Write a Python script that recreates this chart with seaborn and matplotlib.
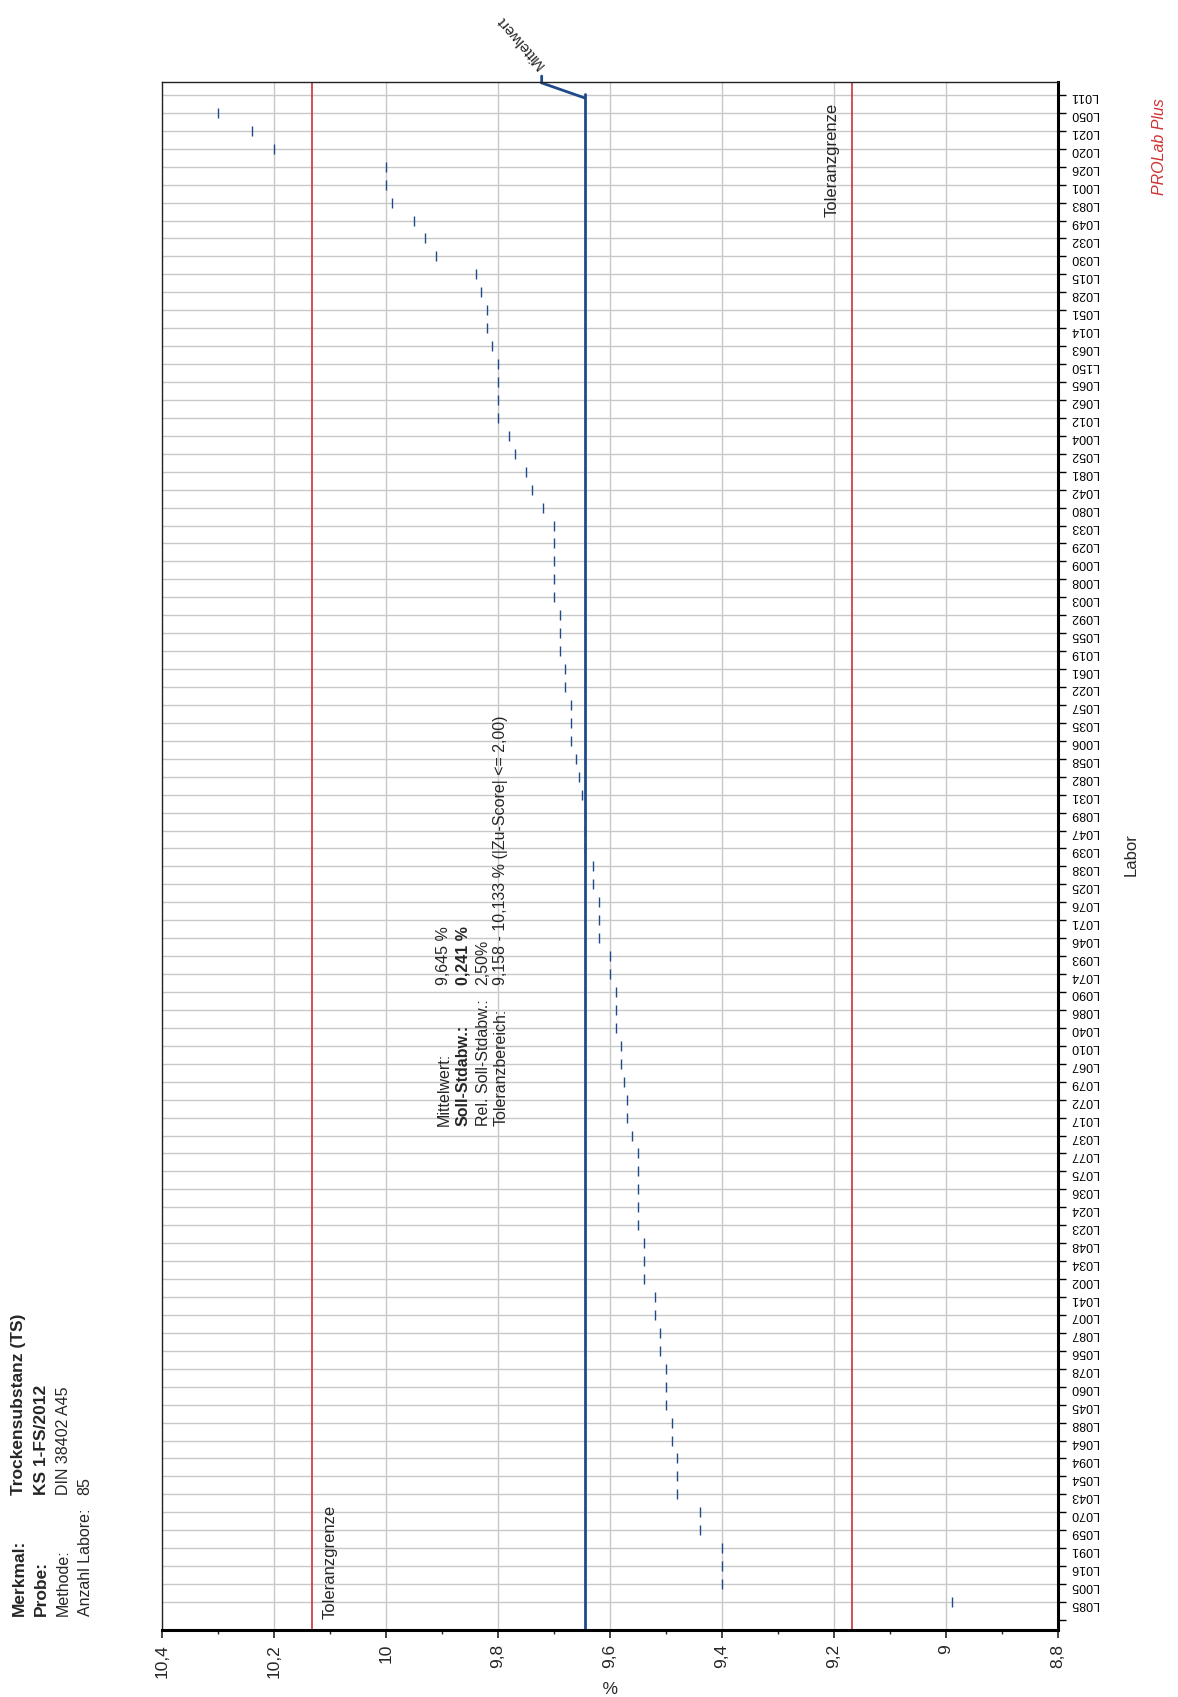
import matplotlib
matplotlib.use("Agg")
import matplotlib.pyplot as plt
import seaborn as sns
import numpy as np
import pandas as pd
from matplotlib.ticker import MultipleLocator

# ---- data (top of chart to bottom) ----
labs = ["L011", "L050", "L021", "L020", "L026", "L001", "L083", "L049", "L032", "L030",
        "L015", "L028", "L051", "L014", "L063", "L150", "L065", "L062", "L012", "L004",
        "L052", "L081", "L042", "L080", "L033", "L029", "L009", "L008", "L003", "L092",
        "L055", "L019", "L061", "L022", "L057", "L035", "L006", "L058", "L082", "L031",
        "L089", "L047", "L039", "L038", "L025", "L076", "L071", "L046", "L093", "L074",
        "L090", "L086", "L040", "L010", "L067", "L079", "L072", "L017", "L037", "L077",
        "L075", "L036", "L024", "L023", "L048", "L034", "L002", "L041", "L007", "L087",
        "L056", "L078", "L060", "L045", "L088", "L064", "L094", "L054", "L043", "L070",
        "L059", "L091", "L016", "L005", "L085"]
values = [np.nan, 10.30, 10.24, 10.20, 10.00, 10.00, 9.99, 9.95, 9.93, 9.91,
          9.84, 9.83, 9.82, 9.82, 9.81, 9.80, 9.80, 9.80, 9.80, 9.78,
          9.77, 9.75, 9.74, 9.72, 9.70, 9.70, 9.70, 9.70, 9.70, 9.69,
          9.69, 9.69, 9.68, 9.68, 9.67, 9.67, 9.67, 9.66, 9.655, 9.65,
          9.645, 9.645, 9.645, 9.63, 9.63, 9.62, 9.62, 9.62, 9.60, 9.60,
          9.59, 9.59, 9.59, 9.58, 9.58, 9.575, 9.57, 9.57, 9.56, 9.55,
          9.55, 9.55, 9.55, 9.55, 9.54, 9.54, 9.54, 9.52, 9.52, 9.51,
          9.51, 9.50, 9.50, 9.50, 9.49, 9.49, 9.48, 9.48, 9.48, 9.44,
          9.44, 9.40, 9.40, 9.40, 8.99]
mean_value = 9.645
tol_high = 10.133
tol_low = 9.168
x_ticks = [10.4, 10.2, 10.0, 9.8, 9.6, 9.4, 9.2, 9.0, 8.8]
x_tick_labels = ["10,4", "10,2", "10", "9,8", "9,6", "9,4", "9,2", "9", "8,8"]

info_labels = ["Merkmal:", "Probe:", "Methode:", "Anzahl Labore:"]
info_values = ["Trockensubstanz (TS)", "KS 1-FS/2012", "DIN 38402 A45", "85"]
info_bold = [True, True, False, False]
stat_labels = ["Mittelwert:", "Soll-Stdabw.:", "Rel. Soll-Stdabw.:", "Toleranzbereich:"]
stat_values = ["9,645 %", "0,241 %", "2,50%", "9,158 - 10,133 % (|Zu-Score| <= 2,00)"]
stat_bold = [False, True, False, False]

# ---- style ----
sns.set_style("white")
plt.rcParams['font.family'] = ['Liberation Sans', 'DejaVu Sans']

BLUE = "#1f4a8a"
RED = "#cc3333"
GRID = "#c8c8c8"

W, H = 1178, 1697
fig = plt.figure(figsize=(W / 100, H / 100), dpi=100)
fig.patch.set_facecolor("white")
AX_L, AX_R, AX_T, AX_B = 162, 1058, 82, 1630
ax = fig.add_axes([AX_L / W, 1 - AX_B / H, (AX_R - AX_L) / W, (AX_B - AX_T) / H])

n = len(labs)
pos = [n - 1 - i for i in range(n)]
df = pd.DataFrame({"lab": labs, "value": values, "pos": pos})

ylim = (-1.56, n - 1 + 0.72)
ax.set_xlim(10.4, 8.8)
ax.set_ylim(*ylim)

# grid
ax.set_xticks(x_ticks)
ax.set_xticklabels(x_tick_labels)
ax.xaxis.set_minor_locator(MultipleLocator(0.1))
ax.set_yticks([-1] + pos)
ax.set_yticklabels([""] + labs)
ax.grid(False)
for p in pos:
    ax.axhline(p, color=GRID, lw=1.0, zorder=0)
for t in x_ticks[1:-1]:
    ax.axvline(t, color=GRID, lw=1.0, zorder=0)

# tolerance + mean lines
ax.axvline(tol_high, color=RED, lw=1.2, zorder=1)
ax.axvline(tol_low, color=RED, lw=1.2, zorder=1)
y_bend = n - 1 - 0.17
ax.plot([mean_value, mean_value], [ylim[0], y_bend + 0.2], color=BLUE, lw=2.0, zorder=2)
ax.plot([mean_value, 9.722, 9.722], [y_bend, n - 1 + 0.67, n - 1 + 1.05],
        color=BLUE, lw=2.0, zorder=2, clip_on=False, solid_joinstyle="miter")

# data marks
sns.scatterplot(data=df, x="value", y="pos", marker="|", s=48, color=BLUE,
                linewidth=1.0, ax=ax, legend=False, zorder=3)

ax.set_xlabel("")
ax.set_ylabel("")

# spines and ticks
for side in ["left", "top"]:
    ax.spines[side].set_linewidth(1.0)
    ax.spines[side].set_color("#222222")
for side in ["bottom", "right"]:
    ax.spines[side].set_linewidth(2.2)
    ax.spines[side].set_color("black")
ax.yaxis.tick_right()
ax.tick_params(axis="y", which="major", right=True, left=False, length=6, width=1,
               pad=3, labelsize=9, labelrotation=180, colors="black")
ax.tick_params(axis="x", which="major", bottom=True, length=6, width=1.2, pad=4,
               labelsize=12.5, labelrotation=90)
ax.tick_params(axis="x", which="minor", bottom=True, length=3, width=1)


def fx(px):
    return px / W


def fy(py):
    return 1 - py / H


# info block (bottom left)
row_x = [19, 41, 63, 85]
for x, lab, val, b in zip(row_x, info_labels, info_values, info_bold):
    fs = 12.5 if b else 11.5
    fig.text(fx(x), fy(1616), lab, rotation=90, rotation_mode="anchor", ha="left",
             va="center", fontsize=fs, fontweight="bold" if b else "normal")
    fig.text(fx(x), fy(1495), val, rotation=90, rotation_mode="anchor", ha="left",
             va="center", fontsize=fs, fontweight="bold" if b else "normal")

# statistics block
row_x2 = [444, 463, 483, 501]
for x, lab, val, b in zip(row_x2, stat_labels, stat_values, stat_bold):
    fig.text(fx(x), fy(1126), lab, rotation=90, rotation_mode="anchor", ha="left",
             va="center", fontsize=11.5, fontweight="bold" if b else "normal")
    fig.text(fx(x), fy(985), val, rotation=90, rotation_mode="anchor", ha="left",
             va="center", fontsize=11.5, fontweight="bold" if b else "normal")

# tolerance labels
fig.text(fx(330), fy(1619), "Toleranzgrenze", rotation=90, rotation_mode="anchor",
         ha="left", va="center", fontsize=12)
fig.text(fx(832), fy(217), "Toleranzgrenze", rotation=90, rotation_mode="anchor",
         ha="left", va="center", fontsize=12)

# mean label
fig.text(fx(542), fy(67), "Mittelwert", rotation=131, rotation_mode="anchor",
         ha="left", va="center", fontsize=11)

# axis titles
fig.text(fx(1131), fy(855), "Labor", rotation=90, ha="center", va="center", fontsize=12)
fig.text(fx(610), fy(1685), "%", rotation=180, ha="center", va="center", fontsize=12.5)

# brand
fig.text(fx(1160), fy(195), "PROLab Plus", rotation=90, rotation_mode="anchor",
         ha="left", va="center", fontsize=11.5, style="italic", color=RED)

fig.savefig("out.png", dpi=100, facecolor="white")
